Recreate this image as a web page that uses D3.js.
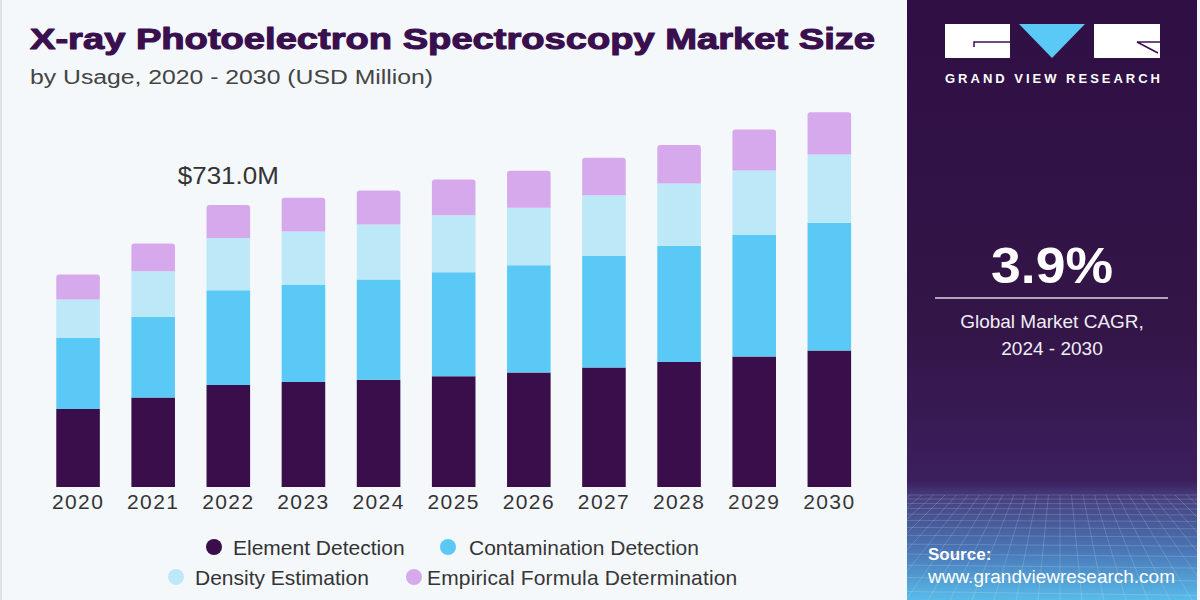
<!DOCTYPE html>
<html>
<head>
<meta charset="utf-8">
<script src="https://cdn.jsdelivr.net/npm/d3@7"></script>
<style>
  html, body { margin: 0; padding: 0; background: #f4f8fb; }
  svg { display: block; }
</style>
</head>
<body>
<svg id="chart" width="1200" height="600"></svg>
<script>
// ---------------- DATA ----------------
const years = ["2020","2021","2022","2023","2024","2025","2026","2027","2028","2029","2030"];
const elementDetection      = [202, 232, 264.4, 272, 278, 287, 296.5, 309.5, 324, 338, 354];
const contaminationDetection= [184, 209, 245.5, 251.5, 260, 269.5, 278, 289.5, 301.5, 315, 331];
const densityEstimation     = [100, 118.5, 135.6, 139, 142.5, 148, 149.5, 157, 161.5, 167.5, 177];
const empiricalFormula      = [65, 72, 85.5, 87.5, 88, 92.5, 96, 97.5, 99.5, 106, 109.5];
const seriesNames = ["Element Detection","Contamination Detection","Density Estimation","Empirical Formula Determination"];
const annotationYear = "2022";
const annotationText = "$731.0M";
const titleText = "X-ray Photoelectron Spectroscopy Market Size";
const subtitleText = "by Usage, 2020 - 2030 (USD Million)";
const cagrValue = "3.9%";
const cagrLabel = ["Global Market CAGR,", "2024 - 2030"];
const sourceLabel = "Source:";
const sourceUrl = "www.grandviewresearch.com";
const brandName = "GRAND VIEW RESEARCH";

// ---------------- STYLES ----------------
const colors = ["#3a0e4a", "#5bc9f5", "#bde8f8", "#d5a9ec"];
const svg = d3.select("#chart");

svg.append("rect").attr("width", 1200).attr("height", 600).attr("fill", "#f4f8fb");
svg.append("rect").attr("x", 0).attr("y", 0).attr("width", 2).attr("height", 600).attr("fill", "#dde2e7");

// ---------------- TITLE ----------------
svg.append("text")
  .attr("x", 30).attr("y", 49)
  .attr("font-family", "'Liberation Sans', Arial, sans-serif")
  .attr("font-weight", 700)
  .attr("font-size", 30)
  .attr("fill", "#3a0f4e")
  .attr("stroke", "#3a0f4e").attr("stroke-width", 1.1).attr("stroke-linejoin", "round")
  .attr("textLength", 845).attr("lengthAdjust", "spacingAndGlyphs")
  .text(titleText);

svg.append("text")
  .attr("x", 30).attr("y", 84)
  .attr("font-family", "'Liberation Sans', Arial, sans-serif")
  .attr("font-size", 20)
  .attr("fill", "#444")
  .attr("textLength", 403).attr("lengthAdjust", "spacingAndGlyphs")
  .text(subtitleText);

// ---------------- CHART ----------------
const x = d3.scaleBand().domain(years).range([40.5, 866.9]).paddingInner(0.42).paddingOuter(0.21);
const y = d3.scaleLinear().domain([0, 1000]).range([487, 487 - 1000 * 282 / 731]);

const rows = years.map((yr, i) => ({
  year: yr,
  s0: elementDetection[i],
  s1: contaminationDetection[i],
  s2: densityEstimation[i],
  s3: empiricalFormula[i]
}));
const stack = d3.stack().keys(["s0","s1","s2","s3"]);
const stacked = stack(rows);

const g = svg.append("g");
stacked.forEach((layer, li) => {
  g.selectAll(null).data(layer).enter().append("path")
    .attr("fill", colors[li])
    .attr("d", d => {
      const x0 = x(d.data.year), w = x.bandwidth();
      const yTop = y(d[1]), yBot = y(d[0]);
      const r = li === 3 ? 3 : 0;
      return `M${x0},${yBot} L${x0},${yTop + r} Q${x0},${yTop} ${x0 + r},${yTop} L${x0 + w - r},${yTop} Q${x0 + w},${yTop} ${x0 + w},${yTop + r} L${x0 + w},${yBot} Z`;
    });
});

// axis
const axis = svg.append("g").attr("transform", `translate(0,${y(0)})`)
  .call(d3.axisBottom(x).tickSize(0).tickPadding(7));
axis.select(".domain").remove();
axis.selectAll("text")
  .attr("font-family", "'Liberation Sans', Arial, sans-serif")
  .attr("font-size", 21)
  .attr("letter-spacing", 1.4)
  .attr("fill", "#333");

// annotation
const annIdx = years.indexOf(annotationYear);
const annTotal = elementDetection[annIdx] + contaminationDetection[annIdx] + densityEstimation[annIdx] + empiricalFormula[annIdx];
svg.append("text")
  .attr("x", x(annotationYear) + x.bandwidth() / 2)
  .attr("y", y(annTotal) - 21)
  .attr("text-anchor", "middle")
  .attr("font-family", "'Liberation Sans', Arial, sans-serif")
  .attr("font-size", 23)
  .attr("fill", "#333")
  .attr("textLength", 101).attr("lengthAdjust", "spacingAndGlyphs")
  .text(annotationText);

// ---------------- LEGEND ----------------
const legendLayout = [
  {dx: 214, tx: 233, y: 547},
  {dx: 448, tx: 469, y: 547},
  {dx: 176, tx: 195, y: 577},
  {dx: 414, tx: 427, y: 577}
];
const lg = svg.append("g");
seriesNames.forEach((name, i) => {
  const L = legendLayout[i];
  lg.append("circle").attr("cx", L.dx).attr("cy", L.y).attr("r", 8).attr("fill", colors[i]);
  lg.append("text").attr("x", L.tx).attr("y", L.y).attr("dy", "0.36em")
    .attr("font-family", "'Liberation Sans', Arial, sans-serif")
    .attr("font-size", 21).attr("fill", "#333")
    .attr("letter-spacing", i === 3 ? 0.15 : 0)
    .text(name);
});

// ---------------- RIGHT PANEL ----------------
const defs = svg.append("defs");
const grad = defs.append("linearGradient").attr("id", "panelGrad").attr("x1", 0).attr("y1", 0).attr("x2", 0).attr("y2", 1);
[[0, "#2f0f44"], [0.55, "#341548"], [0.8, "#3b1e5c"], [0.83, "#46407f"], [0.92, "#4a78b8"], [1, "#58bbe9"]]
  .forEach(([o, c]) => grad.append("stop").attr("offset", o).attr("stop-color", c));

const px0 = 907, px1 = 1197;
svg.append("rect").attr("x", px0).attr("y", 0).attr("width", px1 - px0).attr("height", 600).attr("fill", "url(#panelGrad)");

// perspective grid
const grid = svg.append("g").attr("stroke", "#ffffff").attr("stroke-opacity", 0.16).attr("stroke-width", 1);
const horizonY = 495;
let yy = horizonY, step = 4;
while (yy < 600) {
  grid.append("line").attr("x1", px0).attr("x2", px1).attr("y1", yy).attr("y2", yy + (yy - horizonY) * 0.04);
  yy += step; step *= 1.12;
}
const vpX = 1060, vpY = 380;
for (let k = -30; k <= 30; k++) {
  const bx = vpX + k * 22;
  const t0 = (horizonY - vpY) / (600 - vpY);
  const sx = vpX + (bx - vpX) * t0;
  grid.append("line").attr("x1", sx).attr("y1", horizonY).attr("x2", bx).attr("y2", 600);
}
svg.append("rect").attr("x", px1).attr("y", 0).attr("width", 1200 - px1).attr("height", 600).attr("fill", "#f4f8fb");
svg.append("rect").attr("x", 900).attr("y", 0).attr("width", px0 - 900).attr("height", 600).attr("fill", "#f4f8fb");

// logo
const logo = svg.append("g");
logo.append("rect").attr("x", 945).attr("y", 24).attr("width", 65).attr("height", 34).attr("fill", "#ffffff");
logo.append("path").attr("d", "M974,47 L974,42 L1010,42").attr("fill", "none").attr("stroke", "#3a1050").attr("stroke-width", 1.5);
logo.append("path").attr("d", "M1019,24 L1085,24 L1052,58 Z").attr("fill", "#5bc9f5");
logo.append("rect").attr("x", 1094).attr("y", 24).attr("width", 66).attr("height", 34).attr("fill", "#ffffff");
logo.append("path").attr("d", "M1160,42 L1137,42 L1158,53").attr("fill", "none").attr("stroke", "#3a1050").attr("stroke-width", 1.5);
logo.append("text").attr("x", 945).attr("y", 83)
  .attr("font-family", "'Liberation Sans', Arial, sans-serif").attr("font-weight", 700)
  .attr("font-size", 13).attr("fill", "#ffffff")
  .attr("textLength", 215).attr("lengthAdjust", "spacing")
  .text(brandName);

// CAGR
svg.append("text").attr("x", 1052).attr("y", 283).attr("text-anchor", "middle")
  .attr("font-family", "'Liberation Sans', Arial, sans-serif").attr("font-weight", 700)
  .attr("font-size", 50).attr("fill", "#ffffff")
  .attr("textLength", 122).attr("lengthAdjust", "spacingAndGlyphs")
  .text(cagrValue);
svg.append("line").attr("x1", 935).attr("x2", 1168).attr("y1", 298).attr("y2", 298)
  .attr("stroke", "#d8d4e0").attr("stroke-width", 1.5);
cagrLabel.forEach((t, i) => {
  svg.append("text").attr("x", 1052).attr("y", 328 + i * 27).attr("text-anchor", "middle")
    .attr("font-family", "'Liberation Sans', Arial, sans-serif")
    .attr("font-size", 19).attr("fill", "#f0eef4").text(t);
});

// source
svg.append("text").attr("x", 928).attr("y", 560)
  .attr("font-family", "'Liberation Sans', Arial, sans-serif").attr("font-weight", 700)
  .attr("font-size", 17).attr("fill", "#ffffff").text(sourceLabel);
svg.append("text").attr("x", 928).attr("y", 583)
  .attr("font-family", "'Liberation Sans', Arial, sans-serif")
  .attr("font-size", 18).attr("fill", "#ffffff")
  .attr("textLength", 247).attr("lengthAdjust", "spacingAndGlyphs")
  .text(sourceUrl);
</script>
</body>
</html>
